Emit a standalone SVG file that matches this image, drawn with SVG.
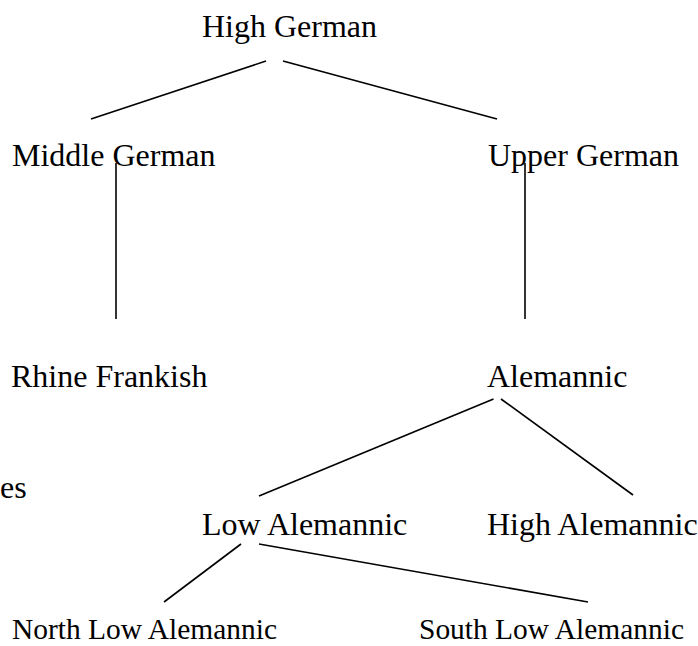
<svg xmlns="http://www.w3.org/2000/svg" width="698" height="646" viewBox="0 0 698 646">
<style>
text { font-family: "Liberation Serif", "Times New Roman", serif; font-size: 32px; fill: #000; }
text.small { font-size: 30px; }
#connectors line { stroke: #000; stroke-width: 1.6; fill: none; }
</style>
<rect width="698" height="646" fill="#fff"/>
<g id="connectors">
<line x1="266" y1="61" x2="91" y2="119"/>
<line x1="283" y1="61" x2="497" y2="119"/>
<line x1="116" y1="163" x2="116" y2="319"/>
<line x1="525" y1="163" x2="525" y2="319"/>
<line x1="493.5" y1="399" x2="259" y2="496"/>
<line x1="501" y1="399" x2="633" y2="495"/>
<line x1="241" y1="544" x2="164" y2="602"/>
<line x1="259" y1="544" x2="588" y2="602"/>
</g>
<g id="high-german"><text x="202" y="37">High German</text></g>
<g id="middle-german"><text x="12" y="166">Middle German</text></g>
<g id="upper-german"><text x="488" y="166">Upper German</text></g>
<g id="rhine-frankish"><text x="11" y="387">Rhine Frankish</text></g>
<g id="alemannic"><text x="487" y="387">Alemannic</text></g>
<g id="es"><text x="0" y="498">es</text></g>
<g id="low-alemannic"><text x="202" y="535">Low Alemannic</text></g>
<g id="high-alemannic"><text x="487" y="535">High Alemannic</text></g>
<g id="north-low-alemannic"><text class="small" x="12" y="639" textLength="265" lengthAdjust="spacingAndGlyphs">North Low Alemannic</text></g>
<g id="south-low-alemannic"><text class="small" x="419" y="639" textLength="265" lengthAdjust="spacingAndGlyphs">South Low Alemannic</text></g>
</svg>
